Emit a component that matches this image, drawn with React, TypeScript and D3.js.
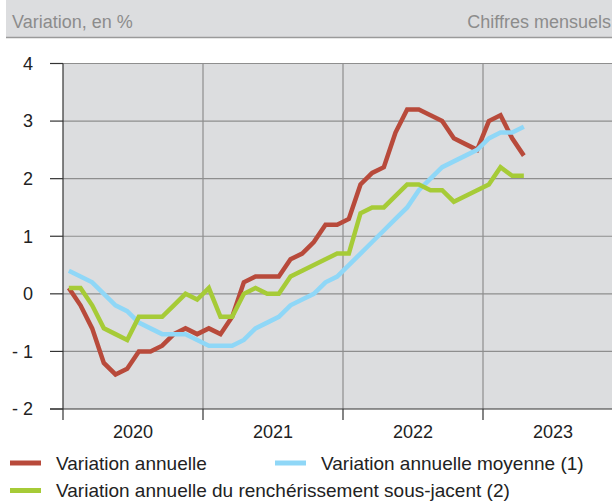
import { useEffect, useRef } from "react";
import * as d3 from "d3";

// monthly values, Jan 2020 .. Apr 2023
const annual = [
  0.1, -0.2, -0.6, -1.2, -1.4, -1.3, -1.0, -1.0, -0.9, -0.7, -0.6, -0.7,
  -0.6, -0.7, -0.4, 0.2, 0.3, 0.3, 0.3, 0.6, 0.7, 0.9, 1.2, 1.2,
  1.3, 1.9, 2.1, 2.2, 2.8, 3.2, 3.2, 3.1, 3.0, 2.7, 2.6, 2.5,
  3.0, 3.1, 2.7, 2.4,
];
const annualAvg = [
  0.4, 0.3, 0.2, 0.0, -0.2, -0.3, -0.5, -0.6, -0.7, -0.7, -0.7, -0.8,
  -0.9, -0.9, -0.9, -0.8, -0.6, -0.5, -0.4, -0.2, -0.1, 0.0, 0.2, 0.3,
  0.5, 0.7, 0.9, 1.1, 1.3, 1.5, 1.8, 2.0, 2.2, 2.3, 2.4, 2.5,
  2.7, 2.8, 2.8, 2.9,
];
const core = [
  0.1, 0.1, -0.2, -0.6, -0.7, -0.8, -0.4, -0.4, -0.4, -0.2, 0.0, -0.1,
  0.1, -0.4, -0.4, 0.0, 0.1, 0.0, 0.0, 0.3, 0.4, 0.5, 0.6, 0.7,
  0.7, 1.4, 1.5, 1.5, 1.7, 1.9, 1.9, 1.8, 1.8, 1.6, 1.7, 1.8,
  1.9, 2.2, 2.05, 2.05,
];
const years = ["2020", "2021", "2022", "2023"];
const yTicks = [-2, -1, 0, 1, 2, 3, 4];

const series = [
  { name: "Variation annuelle", values: annual, color: "#b84a3b" },
  { name: "Variation annuelle moyenne (1)", values: annualAvg, color: "#8fd7f7" },
  { name: "Variation annuelle du renchérissement sous-jacent (2)", values: core, color: "#a6cb37" },
];

const W = 612;
const H = 502;
const FONT = "'Liberation Sans', Arial, sans-serif";

export default function App() {
  const ref = useRef<SVGSVGElement>(null);

  useEffect(() => {
    const svg = d3.select(ref.current);
    svg.selectAll("*").remove();

    const left = 63, top = 63.5, bottom = 409;
    const x = d3.scaleLinear().domain([0, years.length * 12]).range([left, left + 140 * years.length]);
    const y = d3.scaleLinear().domain([-2, 4]).range([bottom, top]);

    // header band
    svg.append("rect").attr("x", 6).attr("y", 0).attr("width", W - 6).attr("height", 37)
      .attr("fill", "#dcdddf");
    svg.append("line").attr("x1", 6).attr("x2", W).attr("y1", 37.5).attr("y2", 37.5)
      .attr("stroke", "#9a9a9a").attr("stroke-width", 1.5);
    svg.append("text").attr("x", 12).attr("y", 28).attr("fill", "#8c8c8c")
      .style("font-size", "18px").style("font-family", FONT).text("Variation, en %");
    svg.append("text").attr("x", 611).attr("y", 28).attr("text-anchor", "end").attr("fill", "#8c8c8c")
      .style("font-size", "18px").style("font-family", FONT).text("Chiffres mensuels");

    // plot area
    svg.append("rect").attr("x", left).attr("y", top).attr("width", W - left).attr("height", bottom - top)
      .attr("fill", "#dcdddf");

    // horizontal grid
    svg.append("g").selectAll("line").data(yTicks.filter((d) => d !== -2)).join("line")
      .attr("x1", left).attr("x2", W).attr("y1", (d) => y(d)).attr("y2", (d) => y(d))
      .attr("stroke", "#8e8e8e").attr("stroke-width", 1.2);
    // vertical grid at year boundaries
    svg.append("g").selectAll("line").data(d3.range(1, years.length)).join("line")
      .attr("x1", (d) => x(d * 12)).attr("x2", (d) => x(d * 12)).attr("y1", top).attr("y2", bottom)
      .attr("stroke", "#8e8e8e").attr("stroke-width", 1.2);

    // axes
    svg.append("line").attr("x1", left).attr("x2", left).attr("y1", top).attr("y2", bottom + 11)
      .attr("stroke", "#333").attr("stroke-width", 1.2);
    svg.append("line").attr("x1", left - 13).attr("x2", W).attr("y1", y(-2)).attr("y2", y(-2))
      .attr("stroke", "#333").attr("stroke-width", 1.2);
    svg.append("g").selectAll("line").data(yTicks).join("line")
      .attr("x1", left - 13).attr("x2", left).attr("y1", (d) => y(d)).attr("y2", (d) => y(d))
      .attr("stroke", "#333").attr("stroke-width", 1.2);
    svg.append("g").selectAll("text").data(yTicks).join("text")
      .attr("x", 33).attr("y", (d) => y(d)).attr("dy", "0.35em").attr("text-anchor", "end")
      .attr("fill", "#222").style("font-size", "18px").style("font-family", FONT)
      .text((d) => (d < 0 ? `- ${-d}` : `${d}`));
    svg.append("g").selectAll("line").data(d3.range(1, years.length)).join("line")
      .attr("x1", (d) => x(d * 12)).attr("x2", (d) => x(d * 12)).attr("y1", bottom).attr("y2", bottom + 11)
      .attr("stroke", "#333").attr("stroke-width", 1.2);
    svg.append("g").selectAll("text").data(years).join("text")
      .attr("x", (_, i) => x(i * 12 + 6)).attr("y", 438).attr("text-anchor", "middle")
      .attr("fill", "#222").style("font-size", "18px").style("font-family", FONT)
      .text((d) => d);

    // series
    const line = d3.line<number>().x((_, i) => x(i + 0.5)).y((d) => y(d));
    series.forEach((s) => {
      svg.append("path").attr("d", line(s.values)).attr("fill", "none")
        .attr("stroke", s.color).attr("stroke-width", 4.5).attr("stroke-linejoin", "miter");
    });

    // legend
    const legendPos = [
      { sx: 10, tx: 56, y: 463 },
      { sx: 275, tx: 321, y: 463 },
      { sx: 10, tx: 56, y: 490.5 },
    ];
    series.forEach((s, i) => {
      const p = legendPos[i];
      svg.append("line").attr("x1", p.sx).attr("x2", p.sx + 31).attr("y1", p.y).attr("y2", p.y)
        .attr("stroke", s.color).attr("stroke-width", 5);
      svg.append("text").attr("x", p.tx).attr("y", p.y).attr("dy", "0.36em").attr("fill", "#222")
        .style("font-size", "19px").style("font-family", FONT).text(s.name);
    });
  }, []);

  return (
    <svg
      ref={ref}
      width={W}
      height={H}
      style={{ position: "absolute", left: 0, top: 0, background: "#fff" }}
    />
  );
}
